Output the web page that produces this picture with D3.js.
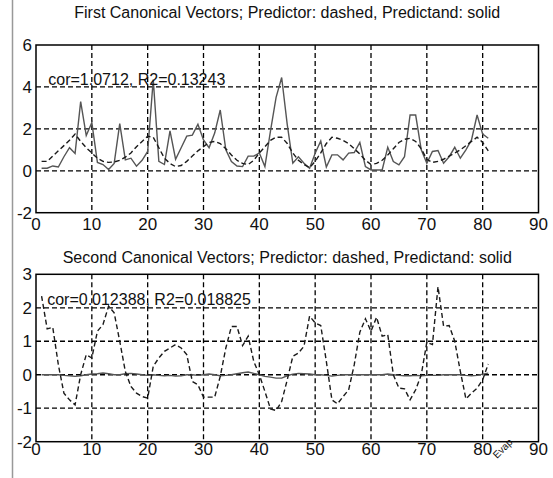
<!DOCTYPE html>
<html>
<head>
<meta charset="utf-8">
<script src="https://cdn.jsdelivr.net/npm/d3@7"></script>
<style>
  body { margin: 0; background: #fff; }
  text { font-family: "Liberation Sans", Arial, sans-serif; fill: #111; }
</style>
</head>
<body>
<script>
// values, index 1..81
var predictand1 = [0.12, 0.12, 0.23, 0.18, 0.67, 1.1, 0.83, 3.3, 1.68, 2.3,
  0.4, 0.3, 0.06, 0.35, 2.25, 0.52, 0.6, 0.22, 0.5, 0.92,
  4.35, 0.45, 0.3, 1.9, 0.55, 1.1, 1.65, 1.7, 2.22, 1.47,
  1.1, 1.8, 2.9, 1.0, 0.44, 0.23, 0.2, 0.7, 0.7, 0.85,
  0.2, 1.9, 3.5, 4.45, 2.2, 0.36, 0.67, 0.36, 0.12, 0.84,
  1.42, 0.18, 0.76, 0.76, 0.52, 0.84, 0.87, 1.35, 0.2, 0.04,
  0.04, 0.04, 1.12, 0.44, 0.28, 0.67, 2.66, 2.66, 1.0, 0.36,
  0.92, 0.97, 0.36, 0.67, 1.12, 0.6, 1.0, 1.47, 2.66, 1.75, 1.55]
var predictor1 = [0.45, 0.45, 0.7, 0.95, 1.2, 1.45, 1.75, 1.4, 1.1, 0.85,
  0.6, 0.45, 0.4, 0.42, 0.5, 0.65, 0.85, 1.15, 1.4, 1.65,
  1.6, 1.1, 0.6, 0.35, 0.2, 0.25, 0.45, 0.7, 0.95, 1.15,
  1.35, 1.4, 1.3, 1.05, 0.75, 0.5, 0.35, 0.3, 0.5, 0.85,
  1.15, 1.45, 1.6, 1.6, 1.3, 0.85, 0.5, 0.3, 0.15, 0.45,
  0.85, 1.3, 1.6, 1.55, 1.45, 1.3, 1.05, 0.8, 0.5, 0.3,
  0.35, 0.5, 0.75, 1.05, 1.35, 1.5, 1.55, 1.4, 1.05, 0.55,
  0.4, 0.45, 0.55, 0.7, 0.85, 1.0, 1.2, 1.4, 1.6, 1.35, 0.95]

var predictand2 = [0.0, 0.0, 0.0, 0.0, -0.02, -0.03, -0.05, -0.03, 0.0, 0.02,
  0.03, 0.05, 0.03, 0.0, 0.0, 0.03, 0.04, 0.02, 0.0, -0.02,
  0.0, -0.02, -0.03, -0.02, -0.04, -0.03, 0.0, 0.0, -0.02, 0.0,
  0.02, 0.0, -0.03, -0.02, 0.0, 0.03, 0.06, 0.08, 0.04, 0.0,
  -0.05, -0.07, -0.1, -0.1, -0.03, 0.02, 0.04, 0.03, 0.02, 0.0,
  0.0, -0.02, -0.04, -0.02, 0.0, 0.0, 0.0, 0.0, 0.0, 0.0,
  0.0, 0.0, 0.02, 0.0, -0.02, -0.03, -0.03, -0.02, -0.03, -0.02,
  -0.02, -0.02, 0.0, 0.0, 0.0, 0.0, -0.02, -0.03, -0.02, 0.02, 0.05]
var predictor2 = [2.35, 1.37, 1.42, 0.3, -0.55, -0.75, -0.9, 0.0, 0.6, 0.5,
  1.3, 1.5, 2.05, 1.85, 1.0, 0.1, -0.35, -0.55, -0.65, -0.7,
  0.25, 0.5, 0.7, 0.8, 0.9, 0.8, 0.6, -0.2, -0.3, -0.67,
  -0.67, -0.67, -0.05, 0.8, 1.44, 1.44, 0.87, 1.15, 0.4, 0.0,
  -0.5, -1.02, -1.07, -0.8, -0.15, 0.55, 0.65, 0.85, 1.75, 1.55,
  1.47, 0.4, -0.75, -0.87, -0.65, -0.45, 0.3, 1.27, 1.67, 1.3,
  1.72, 1.15, 1.2, 0.0, -0.4, -0.42, -0.75, -0.45, 0.0, 0.97,
  0.9, 2.63, 1.45, 1.47, 1.0, 0.1, -0.72, -0.55, -0.4, -0.15, 0.32]

var xTicks = d3.range(0, 91, 10)
var yTicks1 = [-2, 0, 2, 4, 6]
var yTicks2 = [-2, -1, 0, 1, 2, 3]

var titles = ["First Canonical Vectors; Predictor: dashed, Predictand: solid",
  "Second Canonical Vectors; Predictor: dashed, Predictand: solid"]
var notes = ["cor=1.0712, R2=0.13243", "cor=0.012388, R2=0.018825"]

var width = 553, height = 478

var svg = d3.select("body").append("svg")
    .attr("width", width)
    .attr("height", height)

// grey frame edge on the left
svg.append("line")
    .attr("x1", 12.5).attr("x2", 12.5)
    .attr("y1", 0).attr("y2", height)
    .attr("stroke", "#999").attr("stroke-width", 1.5)

var panels = [
  {top: 45, bottom: 212.7, ydom: [-2, 6], yticks: yTicks1, solid: predictand1, dashed: predictor1,
   title: titles[0], titleY: 18, note: notes[0], noteAt: [2.2, 4.1], labelY: 230},
  {top: 274.3, bottom: 441.7, ydom: [-2, 3], yticks: yTicks2, solid: predictand2, dashed: predictor2,
   title: titles[1], titleY: 263, note: notes[1], noteAt: [2.0, 2.08], labelY: 455}
]

var x = d3.scaleLinear().domain([0, 90]).range([36, 538.5])

panels.forEach(function(p, k) {
  var y = d3.scaleLinear().domain(p.ydom).range([p.bottom, p.top])
  var g = svg.append("g")

  // dashed grid
  g.selectAll(".vgrid")
      .data(xTicks.slice(1, -1))
    .enter().append("line")
      .attr("x1", x).attr("x2", x)
      .attr("y1", p.top).attr("y2", p.bottom)
      .attr("stroke", "#000").attr("stroke-width", 1.3)
      .attr("stroke-dasharray", "5,3")
  g.selectAll(".hgrid")
      .data(p.yticks.slice(1, -1))
    .enter().append("line")
      .attr("x1", x(0)).attr("x2", x(90))
      .attr("y1", y).attr("y2", y)
      .attr("stroke", "#000").attr("stroke-width", 1.3)
      .attr("stroke-dasharray", "5,3")

  var line = d3.line()
      .x(function(d, i) { return x(i + 1) })
      .y(function(d) { return y(d) })

  g.append("path")
      .datum(p.solid)
      .attr("d", line)
      .attr("fill", "none")
      .attr("stroke", "#555")
      .attr("stroke-width", 1.4)

  g.append("path")
      .datum(p.dashed)
      .attr("d", line)
      .attr("fill", "none")
      .attr("stroke", "#1a1a1a")
      .attr("stroke-width", 1.4)
      .attr("stroke-dasharray", "5,3")

  // box
  g.append("rect")
      .attr("x", x(0)).attr("y", p.top)
      .attr("width", x(90) - x(0)).attr("height", p.bottom - p.top)
      .attr("fill", "none").attr("stroke", "#000").attr("stroke-width", 1.5)

  g.selectAll(".xl")
      .data(xTicks)
    .enter().append("text")
      .attr("x", x)
      .attr("y", p.labelY)
      .attr("text-anchor", "middle")
      .style("font-size", "17px")
      .text(function(d) { return d })

  g.selectAll(".yl")
      .data(p.yticks)
    .enter().append("text")
      .attr("x", 32)
      .attr("y", y)
      .attr("dy", "0.36em")
      .attr("text-anchor", "end")
      .style("font-size", "17px")
      .text(function(d) { return d })

  g.append("text")
      .attr("x", (x(0) + x(90)) / 2)
      .attr("y", p.titleY)
      .attr("text-anchor", "middle")
      .style("font-size", "16px")
      .text(p.title)

  g.append("text")
      .attr("x", x(p.noteAt[0]))
      .attr("y", y(p.noteAt[1]))
      .style("font-size", "16px")
      .text(p.note)
})

svg.append("text")
    .attr("transform", "translate(506,450) rotate(-45)")
    .attr("text-anchor", "middle")
    .style("font-size", "10px")
    .text("Evap.")
</script>
</body>
</html>
